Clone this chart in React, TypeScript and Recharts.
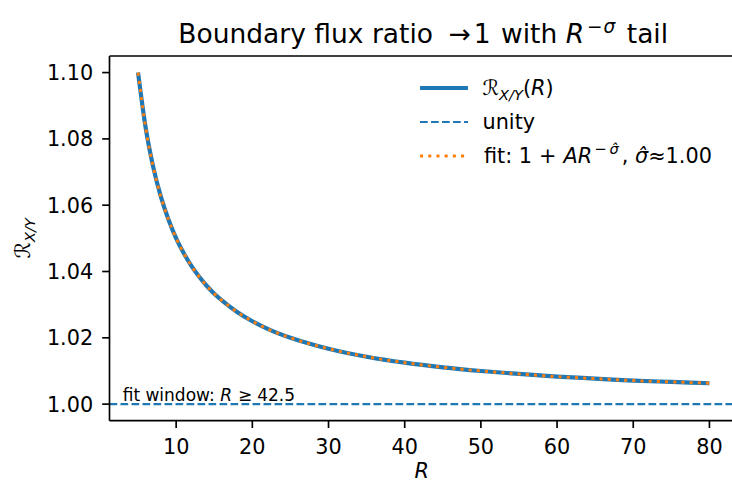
import React from 'react';
import {
  ComposedChart,
  Line,
  XAxis,
  YAxis,
  ReferenceLine,
  Legend,
} from 'recharts';

// radius values where the ratio was sampled
const R_VALUES = [5, 6, 7, 8, 9, 10, 11, 12, 13, 14, 15, 16, 18, 20, 22, 25, 28, 30, 35, 40, 45, 50, 55, 60, 65, 70, 75, 80];

// boundary flux ratio R_X/Y(R)
const RATIO_VALUES = [
  1.1, 1.0833, 1.0714, 1.0625, 1.0556, 1.05, 1.0455, 1.0417, 1.0385, 1.0357, 1.0333, 1.0313, 1.0278, 1.025,
  1.0227, 1.02, 1.0179, 1.0167, 1.0143, 1.0125, 1.0111, 1.01, 1.0091, 1.0083, 1.0077, 1.0071, 1.0067, 1.0063,
];

// fitted 1 + A R^-sigma
const FIT_VALUES = [
  1.1, 1.0833, 1.0714, 1.0625, 1.0556, 1.05, 1.0455, 1.0417, 1.0385, 1.0357, 1.0333, 1.0313, 1.0278, 1.025,
  1.0227, 1.02, 1.0179, 1.0167, 1.0143, 1.0125, 1.0111, 1.01, 1.0091, 1.0083, 1.0077, 1.0071, 1.0067, 1.0063,
];

const X_TICKS = [10, 20, 30, 40, 50, 60, 70, 80];
const Y_TICKS = [1.0, 1.02, 1.04, 1.06, 1.08, 1.1];

const BLUE = '#1f77b4';
const ORANGE = '#ff7f0e';
const FONT = 'DejaVu Sans';
const FS = 20.8;

const data = R_VALUES.map((r, i) => ({ r, ratio: RATIO_VALUES[i], fit: FIT_VALUES[i] }));

const tickStyle = { fill: '#000', fontSize: FS, fontFamily: FONT };

function LegendContent() {
  return (
    <svg width={320} height={110} style={{ display: 'block', fontFamily: FONT }}>
      <line x1={2} x2={50} y1={18} y2={18} stroke={BLUE} strokeWidth={4.2} />
      <text x={64.5} y={25.3} fontSize={FS} fill="#000">
        <tspan>ℛ</tspan>
        <tspan fontSize={14.6} dy={4.5} fontStyle="italic">X/Y</tspan>
        <tspan dy={-4.5}>(</tspan>
        <tspan fontStyle="italic">R</tspan>
        <tspan>)</tspan>
      </text>

      <line x1={2} x2={50} y1={52} y2={52} stroke={BLUE} strokeWidth={2.1} strokeDasharray="7.7 3.3" />
      <text x={64.5} y={59.3} fontSize={FS} fill="#000">unity</text>

      <line x1={2} x2={50} y1={86} y2={86} stroke={ORANGE} strokeWidth={3} strokeDasharray="3.1 5.1" />
      <text x={66} y={93.3} fontSize={FS} fill="#000">
        <tspan>fit: 1</tspan>
        <tspan dx={7}>+</tspan>
        <tspan dx={7} fontStyle="italic">AR</tspan>
        <tspan dx={2} fontSize={14.6} dy={-9}>−</tspan>
        <tspan dx={3} fontSize={14.6} fontStyle="italic">σ̂</tspan>
        <tspan dx={3} dy={9}>, </tspan>
        <tspan fontStyle="italic">σ̂</tspan>
        <tspan>≈1.00</tspan>
      </text>
    </svg>
  );
}

export default function App() {
  return (
    <div
      style={{
        position: 'fixed',
        left: 0,
        top: 0,
        width: 732,
        height: 482,
        overflow: 'hidden',
        background: '#fff',
        fontFamily: FONT,
      }}
    >
      <ComposedChart width={745} height={482} data={data} margin={{ top: 56, right: 7, bottom: 0, left: 0 }}>
        <XAxis
          dataKey="r"
          type="number"
          domain={[1.25, 83.75]}
          allowDataOverflow
          ticks={X_TICKS}
          height={61.3}
          tick={tickStyle}
          tickSize={7.3}
          tickMargin={11}
          tickLine={{ stroke: '#000', strokeWidth: 1.67 }}
          axisLine={{ stroke: '#000', strokeWidth: 1.67 }}
        />
        <YAxis
          type="number"
          domain={[0.995, 1.105]}
          allowDataOverflow
          ticks={Y_TICKS}
          tickFormatter={(v: number) => v.toFixed(2)}
          width={109.5}
          tick={tickStyle}
          tickSize={7.3}
          tickMargin={9}
          tickLine={{ stroke: '#000', strokeWidth: 1.67 }}
          axisLine={{ stroke: '#000', strokeWidth: 1.67 }}
        />
        <ReferenceLine y={1.105} stroke="#000" strokeWidth={1.67} />
        <ReferenceLine x={83.75} stroke="#000" strokeWidth={1.67} />
        <ReferenceLine y={1.0} stroke={BLUE} strokeWidth={2.1} strokeDasharray="7.7 3.3" />
        <Line
          dataKey="ratio"
          type="monotone"
          stroke={BLUE}
          strokeWidth={4.2}
          dot={false}
          activeDot={false}
          isAnimationActive={false}
        />
        <Line
          dataKey="fit"
          type="monotone"
          stroke={ORANGE}
          strokeWidth={3}
          strokeDasharray="3.1 5.1"
          dot={false}
          activeDot={false}
          isAnimationActive={false}
        />
        <Legend
          layout="vertical"
          align="center"
          verticalAlign="middle"
          wrapperStyle={{ top: 70, left: 418, width: 320 }}
          content={() => <LegendContent />}
        />
      </ComposedChart>

      <svg
        width={732}
        height={482}
        style={{ position: 'absolute', left: 0, top: 0, pointerEvents: 'none', fontFamily: FONT }}
      >
        <text x={178.3} y={42.5} fontSize={26.5} fill="#000">
          <tspan>Boundary flux ratio </tspan>
          <tspan dx={7}>→</tspan>
          <tspan dx={3}>1</tspan>
          <tspan dx={2}> with </tspan>
          <tspan fontStyle="italic">R</tspan>
          <tspan dx={3} fontSize={18.5} dy={-10}>−</tspan>
          <tspan dx={1} fontSize={18.5} fontStyle="italic">σ</tspan>
          <tspan dx={3} dy={10}> tail</tspan>
        </text>
        <text x={421.7} y={477.5} textAnchor="middle" fontSize={FS} fontStyle="italic" fill="#000">
          R
        </text>
        <text transform="translate(30,238.4) rotate(-90)" textAnchor="middle" fontSize={FS} fill="#000">
          <tspan>ℛ</tspan>
          <tspan fontSize={14.6} dy={4.5} fontStyle="italic">X/Y</tspan>
        </text>
        <text x={122.7} y={400.5} fontSize={17} fill="#000">
          <tspan>fit window: </tspan>
          <tspan fontStyle="italic">R</tspan>
          <tspan dx={6}>≥</tspan>
          <tspan dx={5}>42.5</tspan>
        </text>
      </svg>
    </div>
  );
}
